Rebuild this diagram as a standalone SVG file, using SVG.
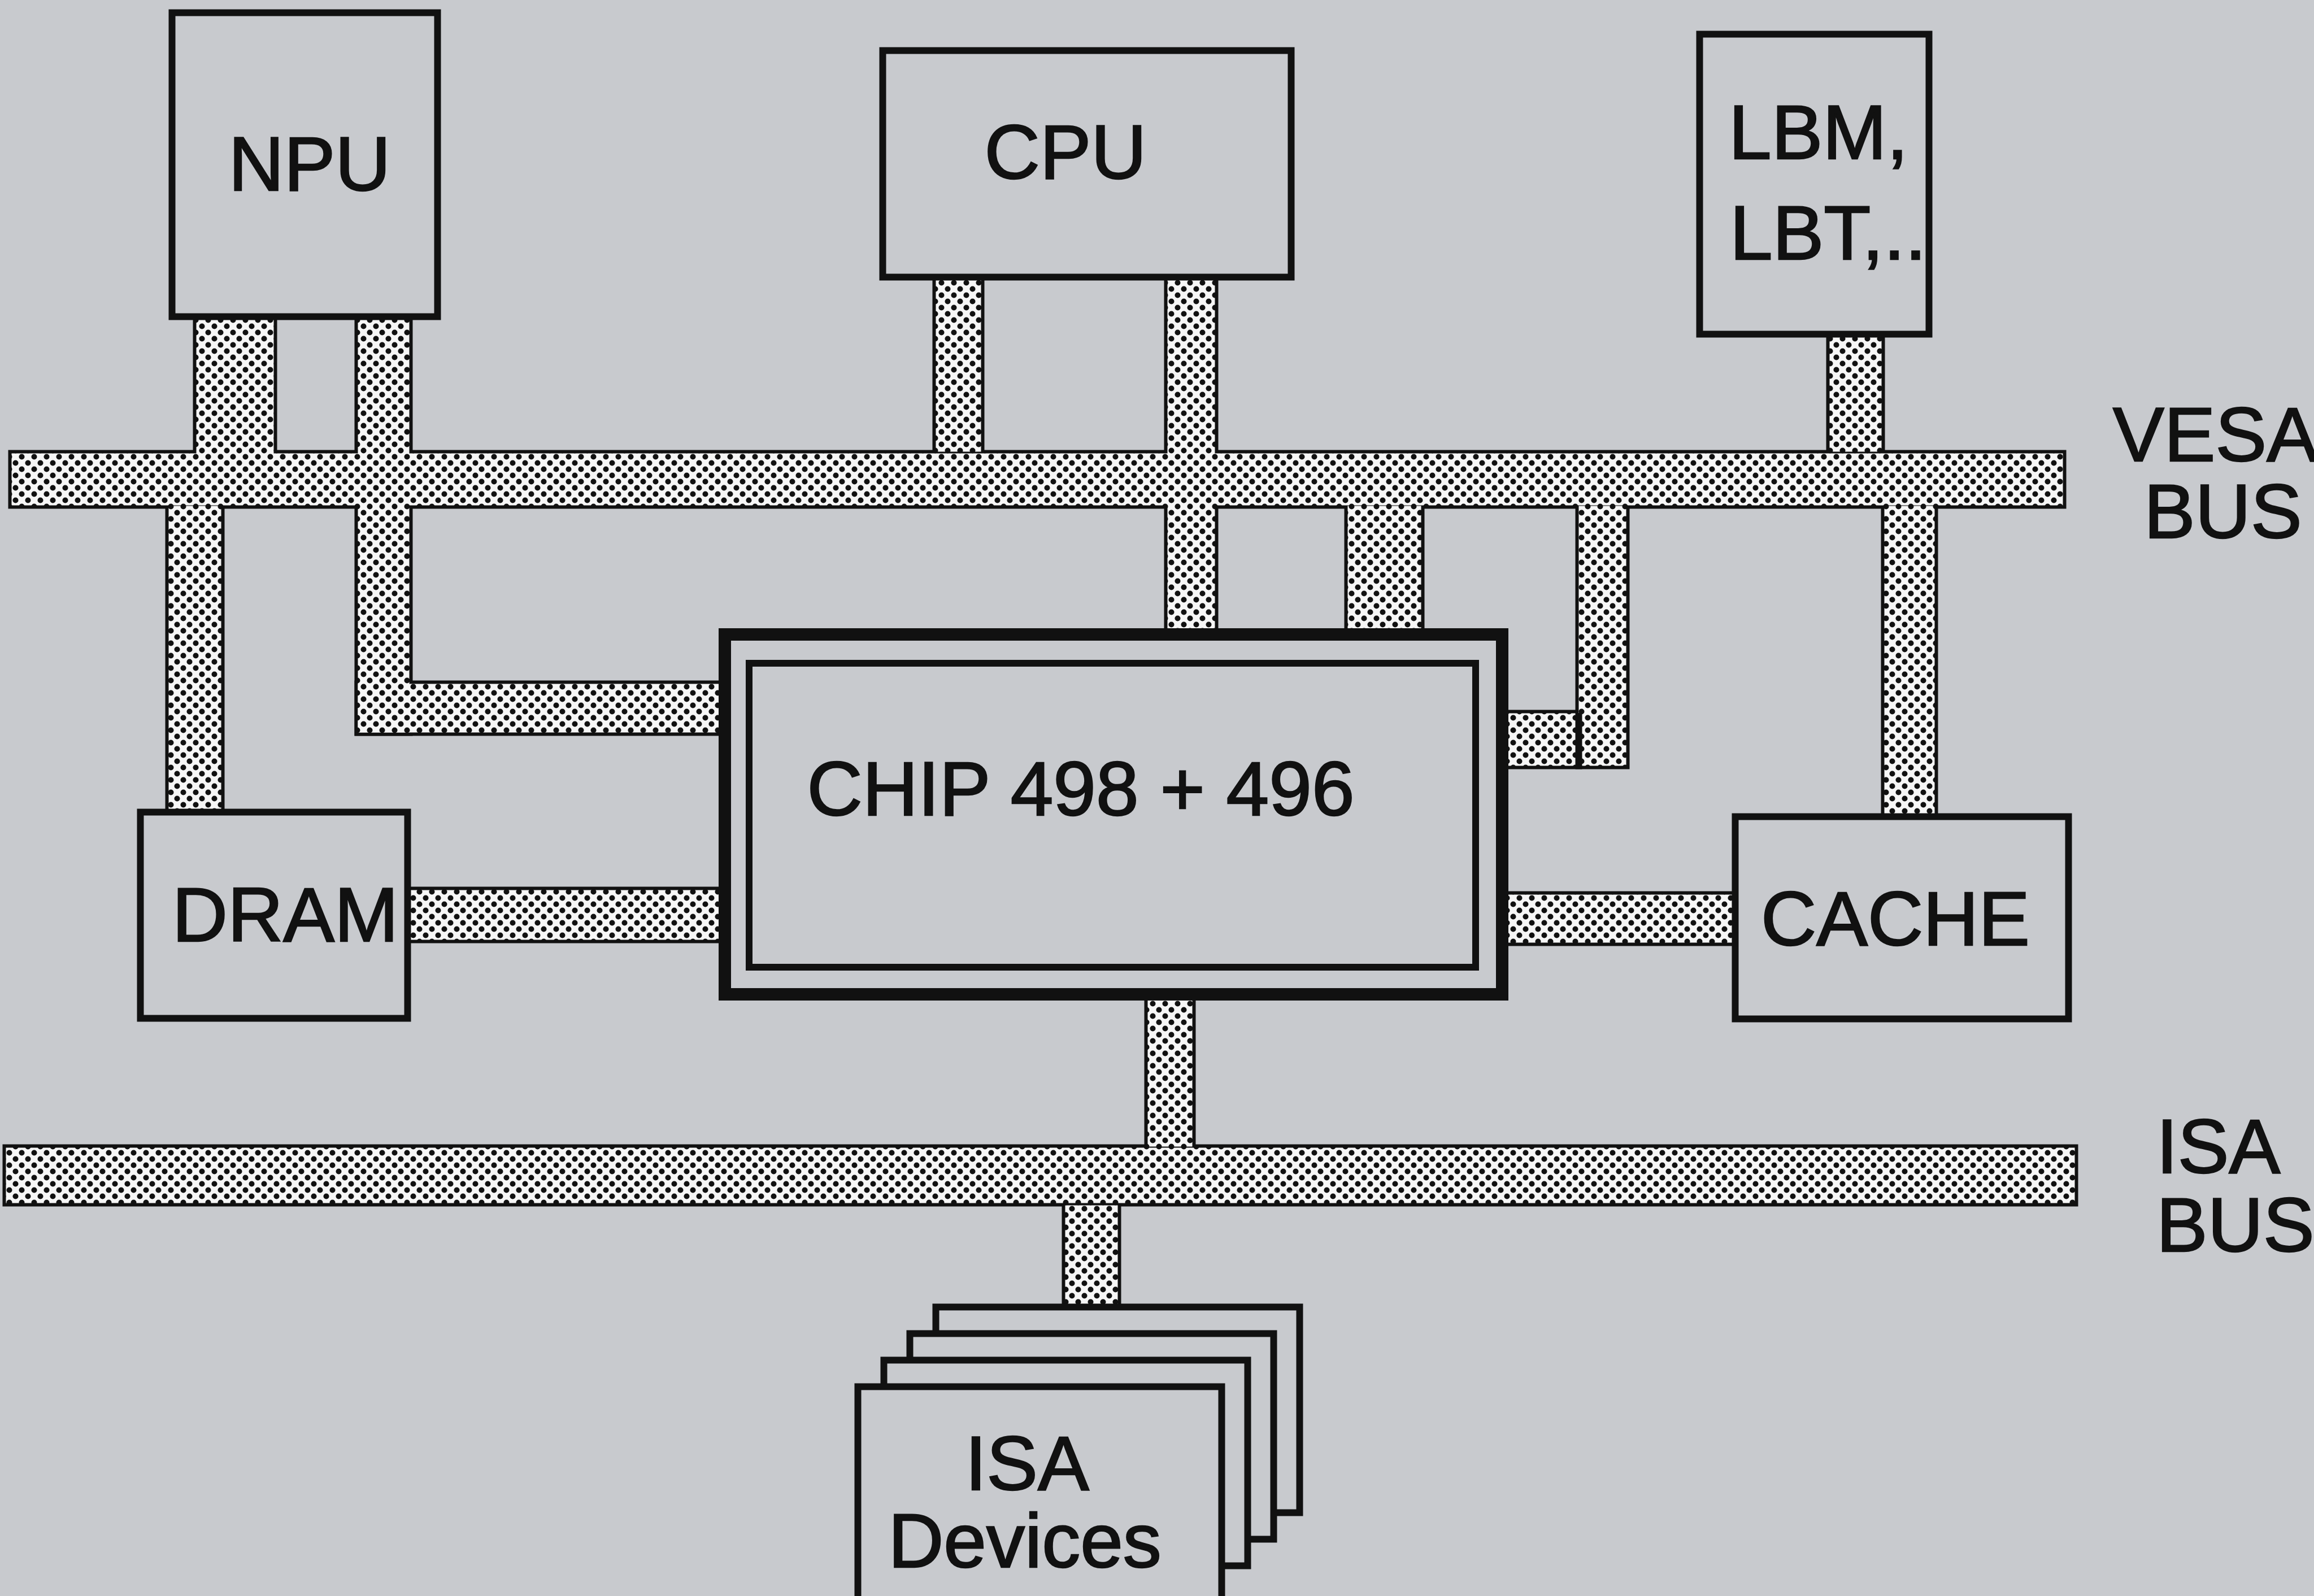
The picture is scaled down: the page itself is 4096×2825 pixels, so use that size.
<svg xmlns="http://www.w3.org/2000/svg" width="4096" height="2825" viewBox="0 0 4096 2825">
  <defs>
    <pattern id="dots" patternUnits="userSpaceOnUse" width="22" height="22">
      <rect width="22" height="22" fill="#f6f6f6"/>
      <circle cx="5.5" cy="5.5" r="5" fill="#111"/>
      <circle cx="16.5" cy="16.5" r="5" fill="#111"/>
    </pattern>
  </defs>
  <style>
    .bg { fill: #c8cace; }
    .bar { fill: url(#dots); stroke: #111; stroke-width: 12; }
    .barfill { fill: url(#dots); stroke: none; }
    .box { fill: #c8cace; stroke: #111; stroke-width: 12; }
    .lbl { font-family: "Liberation Sans", Arial, sans-serif; font-size: 136px; fill: #111; stroke: #111; stroke-width: 2.5; }
    .mid { text-anchor: middle; }
  </style>
  <rect class="bg" x="0" y="0" width="4096" height="2825"/>

  <g id="connectors">
    <g id="bar-outlines">
      <rect id="vesa-bus" class="bar" x="20.5" y="802.5" width="3631" height="92"/>
      <rect id="isa-bus" class="bar" x="10.5" y="2031.5" width="3662" height="98"/>
      <rect class="bar" x="347.5" y="561.5" width="137" height="243"/>
      <rect class="bar" x="633.5" y="561.5" width="91" height="735"/>
      <rect class="bar" x="633.5" y="1210.5" width="646" height="86"/>
      <rect class="bar" x="298.5" y="895.5" width="93" height="539"/>
      <rect class="bar" x="725.5" y="1575.5" width="554" height="88"/>
      <rect class="bar" x="1656.5" y="495.5" width="80" height="304"/>
      <rect class="bar" x="2066.5" y="495.5" width="84" height="619"/>
      <rect class="bar" x="2385.5" y="895.5" width="130" height="219"/>
      <rect class="bar" x="2794.5" y="895.5" width="84" height="460"/>
      <rect class="bar" x="2665.5" y="1262.5" width="129" height="93"/>
      <rect class="bar" x="3238.5" y="595.5" width="92" height="204"/>
      <rect class="bar" x="3335.5" y="895.5" width="89" height="547"/>
      <rect class="bar" x="2665.5" y="1583.5" width="403" height="85"/>
      <rect class="bar" x="2031.5" y="1767.5" width="79" height="262"/>
      <rect class="bar" x="1885.5" y="2133.5" width="93" height="177"/>
    </g>
    <g id="bar-fills">
      <rect class="barfill" x="20.5" y="802.5" width="3631" height="92"/>
      <rect class="barfill" x="10.5" y="2031.5" width="3662" height="98"/>
      <rect class="barfill" x="347.5" y="561.5" width="137" height="243"/>
      <rect class="barfill" x="633.5" y="561.5" width="91" height="735"/>
      <rect class="barfill" x="633.5" y="1210.5" width="646" height="86"/>
      <rect class="barfill" x="298.5" y="895.5" width="93" height="539"/>
      <rect class="barfill" x="725.5" y="1575.5" width="554" height="88"/>
      <rect class="barfill" x="1656.5" y="495.5" width="80" height="304"/>
      <rect class="barfill" x="2066.5" y="495.5" width="84" height="619"/>
      <rect class="barfill" x="2385.5" y="895.5" width="130" height="219"/>
      <rect class="barfill" x="2794.5" y="895.5" width="84" height="460"/>
      <rect class="barfill" x="2665.5" y="1262.5" width="129" height="93"/>
      <rect class="barfill" x="3238.5" y="595.5" width="92" height="204"/>
      <rect class="barfill" x="3335.5" y="895.5" width="89" height="547"/>
      <rect class="barfill" x="2665.5" y="1583.5" width="403" height="85"/>
      <rect class="barfill" x="2031.5" y="1767.5" width="79" height="262"/>
      <rect class="barfill" x="1885.5" y="2133.5" width="93" height="177"/>
    </g>
    <line x1="2794.5" y1="1262" x2="2794.5" y2="1356" stroke="#111" stroke-width="12"/>
  </g>

  <g id="npu">
    <rect class="box" x="304.5" y="22.5" width="470" height="538"/>
    <text class="lbl mid" x="548" y="337">NPU</text>
  </g>
  <g id="cpu">
    <rect class="box" x="1562.5" y="89.5" width="723" height="401"/>
    <text class="lbl mid" x="1886" y="316">CPU</text>
  </g>
  <g id="lbm">
    <rect class="box" x="3008.5" y="60.5" width="406" height="531"/>
    <text class="lbl" x="3060" y="281" font-size="131">LBM,</text>
    <text class="lbl" x="3062" y="459" font-size="131">LBT,..</text>
  </g>
  <g id="chip">
    <rect x="1283" y="1123" width="1376" height="637" fill="#c8cace" stroke="#111" stroke-width="22"/>
    <rect x="1326" y="1174" width="1286" height="538" fill="none" stroke="#111" stroke-width="12"/>
    <text class="lbl mid" x="1913" y="1443" font-size="138">CHIP 498 + 496</text>
  </g>
  <g id="dram">
    <rect class="box" x="248.5" y="1437.5" width="473" height="365"/>
    <text class="lbl mid" x="505" y="1666" font-size="138">DRAM</text>
  </g>
  <g id="cache">
    <rect class="box" x="3071.5" y="1445.5" width="590" height="358"/>
    <text class="lbl mid" x="3355" y="1673">CACHE</text>
  </g>
  <g id="isa-devices">
    <rect class="box" x="1656.5" y="2313.5" width="644" height="364"/>
    <rect class="box" x="1610.5" y="2360.5" width="644" height="364"/>
    <rect class="box" x="1564.5" y="2407.5" width="644" height="364"/>
    <rect class="box" x="1518.5" y="2454.5" width="644" height="420"/>
    <text class="lbl mid" x="1818" y="2637" font-size="138">ISA</text>
    <text class="lbl mid" x="1814" y="2774" font-size="138">Devices</text>
  </g>
  <g id="vesa-bus-label">
    <text class="lbl" x="3740" y="816" font-size="134">VESA</text>
    <text class="lbl" x="3795" y="952" font-size="134">BUS</text>
  </g>
  <g id="isa-bus-label">
    <text class="lbl" x="3817" y="2076" font-size="134">ISA</text>
    <text class="lbl" x="3817" y="2215" font-size="134">BUS</text>
  </g>
</svg>
